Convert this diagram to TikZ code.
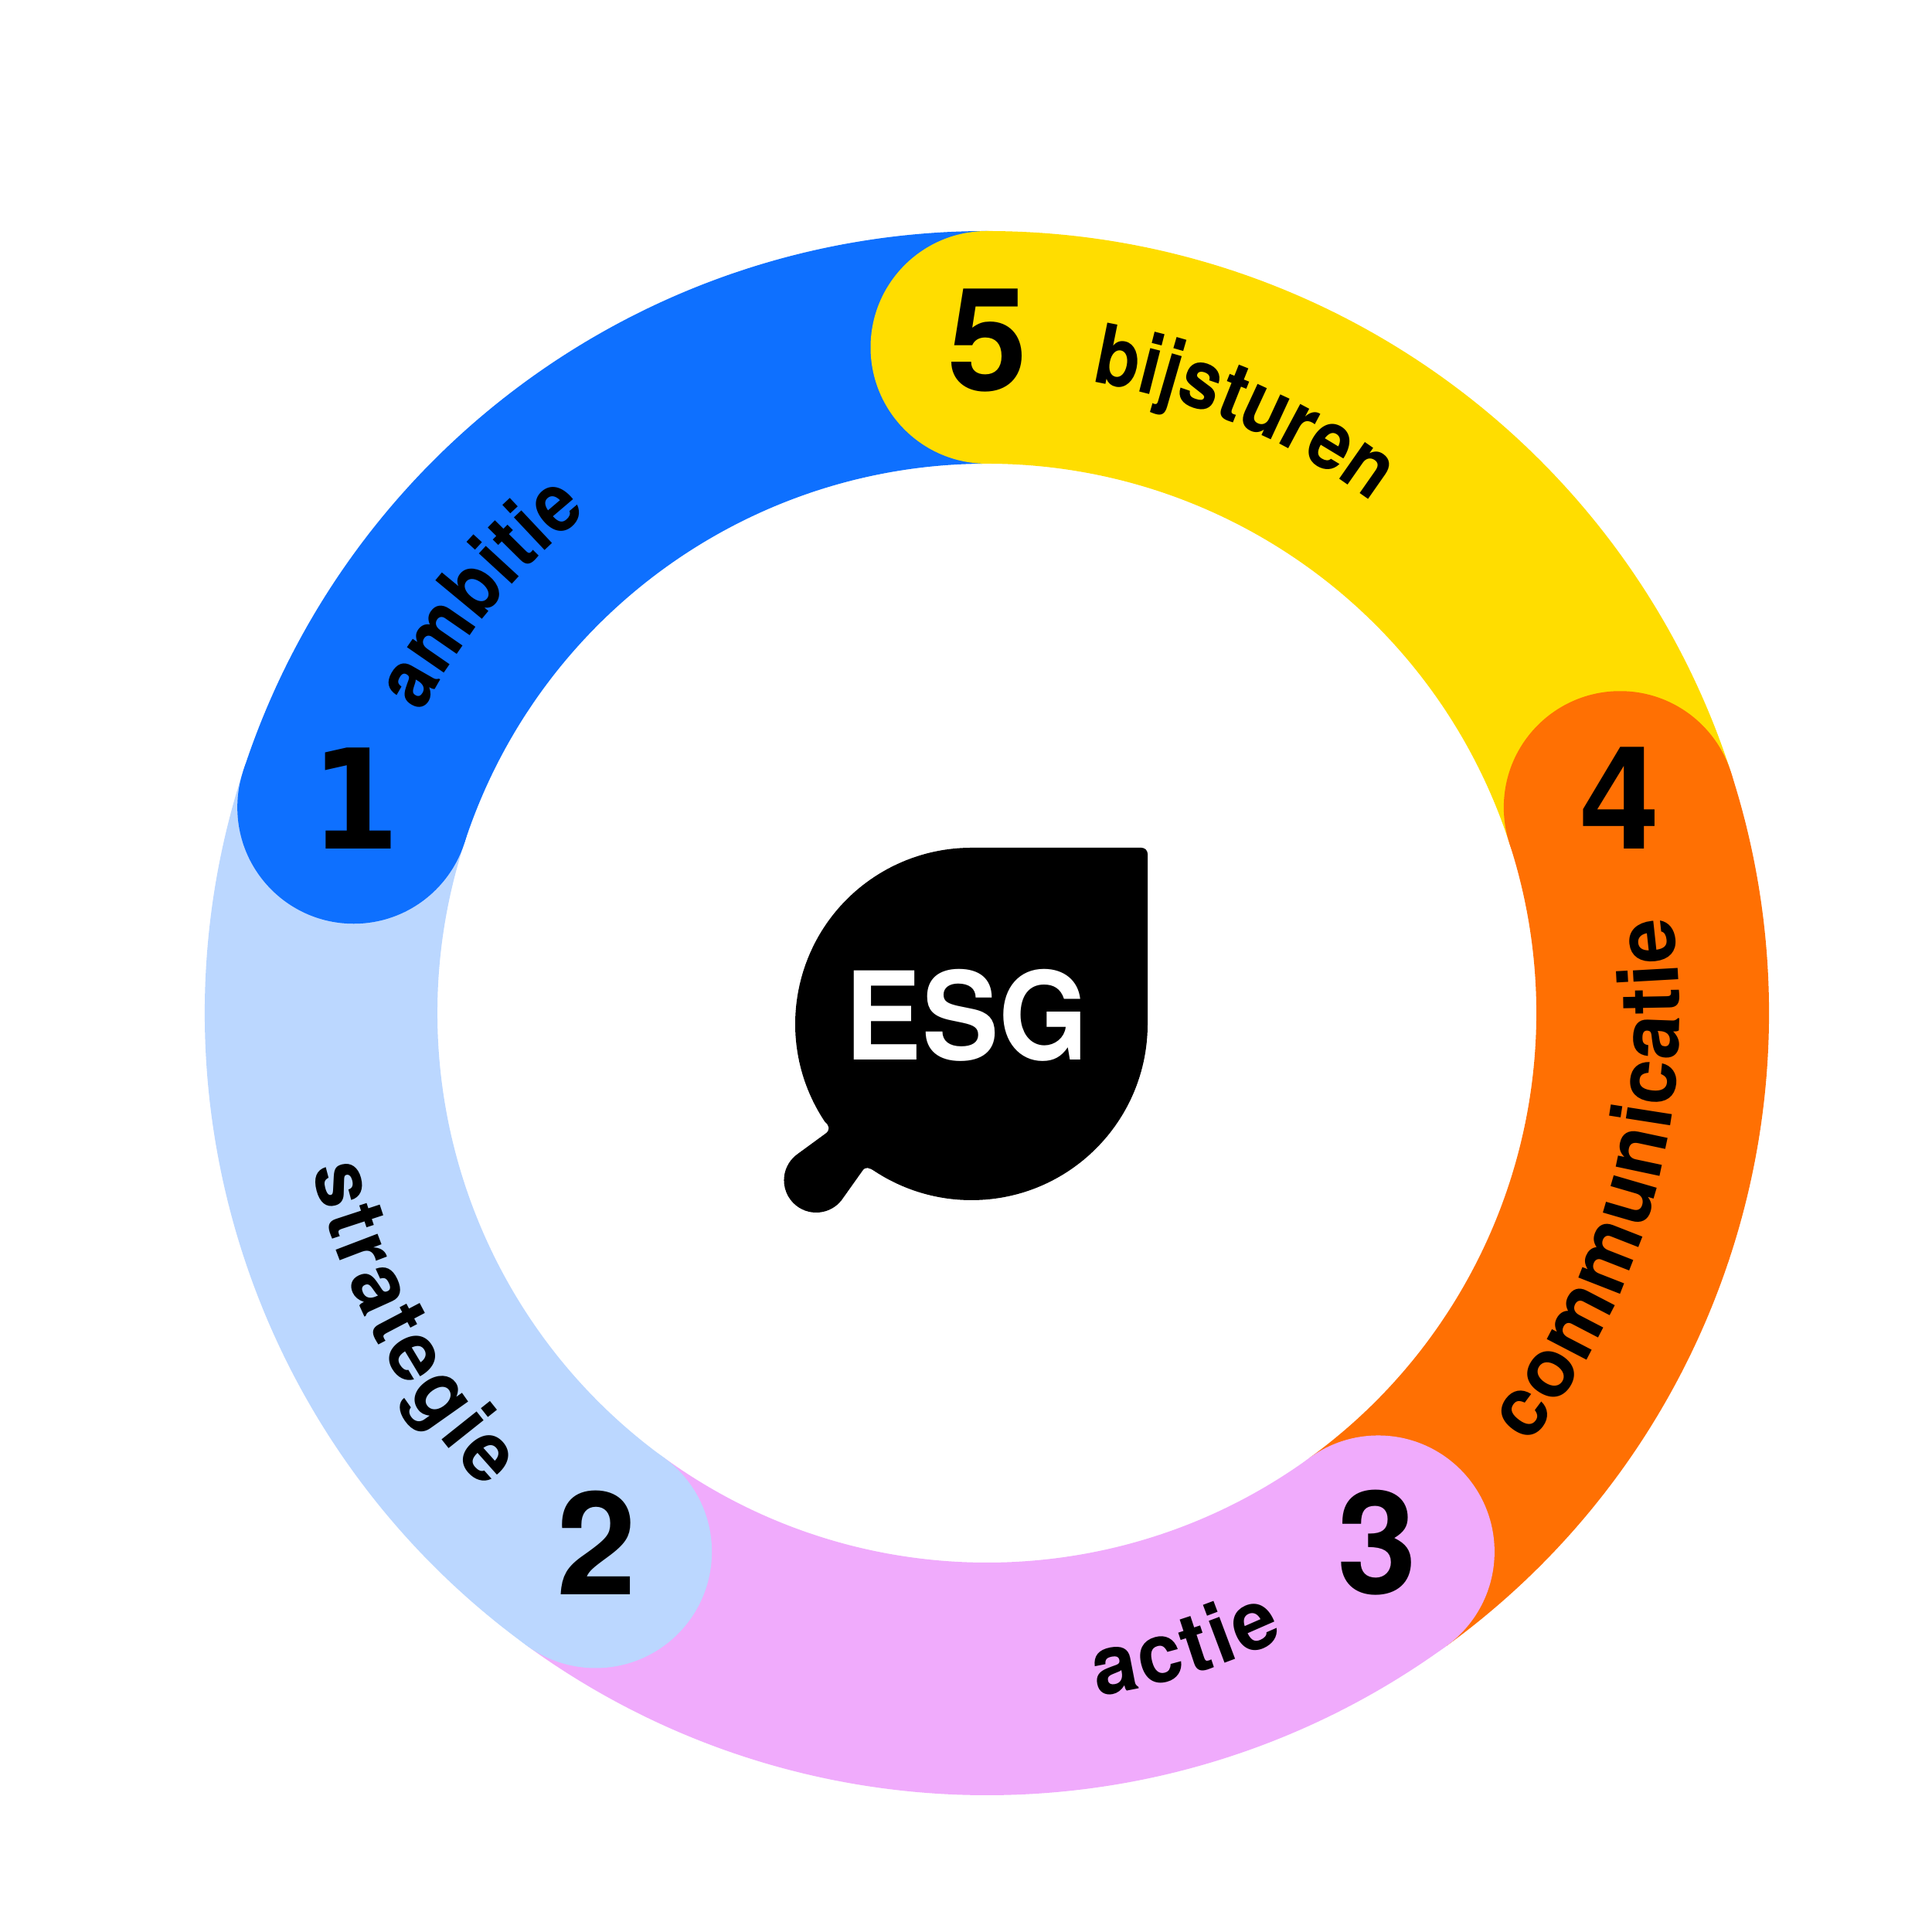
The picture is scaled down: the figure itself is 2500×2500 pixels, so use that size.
\documentclass[tikz,border=0pt]{standalone}
\usepackage{fontspec}
\usetikzlibrary{decorations.text}
\setmainfont{TeX Gyre Heros}
\newfontfamily\cwfam[FakeStretch=0.88]{TeX Gyre Heros}
\newfontfamily\ccwfam[FakeStretch=0.97]{TeX Gyre Heros}
\newfontfamily\digfam{TeX Gyre Heros}
\newfontfamily\onefam[FakeStretch=0.92]{DejaVu Sans}
\newfontfamily\esgfam[FakeStretch=0.94]{TeX Gyre Heros}
\newcommand{\cwfont}{\cwfam\bfseries\fontsize{30.5pt}{31pt}\selectfont}
\newcommand{\ccwfont}{\ccwfam\bfseries\fontsize{30.5pt}{31pt}\selectfont}
\definecolor{cblue}{RGB}{14,112,255}
\definecolor{clight}{RGB}{187,215,255}
\definecolor{cpink}{RGB}{240,171,252}
\definecolor{corange}{RGB}{255,112,3}
\definecolor{cyellow}{RGB}{255,221,0}
\newcommand{\ringseg}[3]{%
  \fill[#1] (#2:1012) arc[start angle=#2,end angle=#3,radius=1012]
    -- (#3:711) arc[start angle=#3,end angle=#2,radius=711] -- cycle;}
\newcommand{\ringcap}[2]{\fill[#1] (#2:861.5) circle[radius=150.5];}
\newcommand{\arclabel}[5]{%
  \path[decorate,decoration={text along path,text align={fit to path},
    text={|#5|#4}}] (#1:#3) arc[start angle=#1,end angle=#2,radius=#3];}
\tikzset{digit/.style={inner sep=0pt,anchor=center,text=black,font=\digfam\bfseries\fontsize{52.8pt}{54pt}\selectfont}}
\begin{document}
\begin{tikzpicture}[x=0.01cm,y=0.01cm]
\useasboundingbox (0,0) rectangle (2500,2500);
\fill[white] (0,0) rectangle (2500,2500);
\begin{scope}[shift={(1277,1189)}]
  \ringseg{cblue}{162}{90}
  \ringseg{cyellow}{90}{18}
  \ringseg{corange}{18}{-54}
  \ringseg{cpink}{-54}{-126}
  \ringseg{clight}{-126}{-198}
  \ringcap{cblue}{162}
  \ringcap{cyellow}{90}
  \ringcap{corange}{18}
  \ringcap{cpink}{-54}
  \ringcap{clight}{234}
  \arclabel{152}{128.6}{828}{ambitie}{\cwfont}
  \arclabel{80.6}{53}{828}{bijsturen}{\cwfont}
  \arclabel{-38.5}{8}{896}{communicatie}{\ccwfont}
  \arclabel{-80.8}{-64.5}{896}{actie}{\ccwfont}
  \arclabel{193}{223.5}{896}{strategie}{\ccwfont}
\end{scope}
\node[digit,font=\onefam\bfseries\fontsize{51pt}{54pt}\selectfont] (n1) at (460,1467) {1};
\node[digit] (n2) at (772,504) {2};
\node[digit] (n3) at (1782,504) {3};
\node[digit] (n4) at (2096,1467) {4};
\node[digit] (n5) at (1278,2059) {5};
\fill[black] (1257,1403) -- (1477,1403) arc[start angle=90,end angle=0,radius=8]
  -- (1485,1175) arc[start angle=0,end angle=-123.3,radius=228]
  .. controls (1125,989) and (1120,991) .. (1116,985)
  -- (1089,947) arc[start angle=-38,end angle=-235,radius=41.7]
  -- (1068,1033) .. controls (1074,1037) and (1074,1043) .. ([shift={(1257,1175)}]213.7:228)
  arc[start angle=213.7,end angle=90,radius=228] -- cycle;
\node[inner sep=0pt,text=white,font=\esgfam\bfseries\fontsize{45pt}{48pt}\selectfont] (esg) at (1251,1186) {ESG};
\end{tikzpicture}
\end{document}
